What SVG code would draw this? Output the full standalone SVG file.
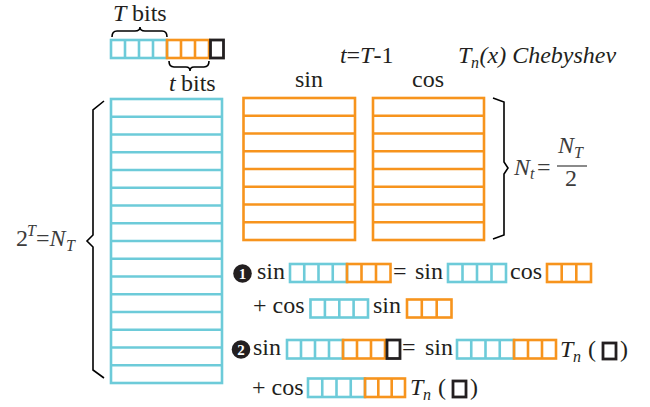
<svg xmlns="http://www.w3.org/2000/svg" width="650" height="407" viewBox="0 0 650 407">
<style>
@keyframes relay{from{letter-spacing:0px}to{letter-spacing:0.01px}}
text{font-size:24px;fill:#231f20;animation:relay 1s linear infinite alternate}
.it{font-style:italic}
.g{fill:#3c3c3c}
.s{font-size:16px;font-style:italic}
.w{fill:#fff;font-size:15px;font-weight:bold}
.b{fill:none;stroke:#6dcbd9;stroke-width:2.6}
.o{fill:none;stroke:#f7941d;stroke-width:2.6}
.k{fill:none;stroke:#231f20;stroke-width:2.8}
.br{fill:none;stroke:#000;stroke-width:1.6;stroke-linejoin:miter}
</style>
<rect width="650" height="407" fill="#fff"/>

<g id="bits-top">
  <text font-family="Liberation Serif" class="it" x="113" y="21">T</text>
  <text font-family="Liberation Serif" x="132" y="21">bits</text>
  <path class="br" d="M112,37 Q112,31 117,31 L135,31 Q140,31 140,27 Q140,31 145,31 L162,31 Q167,31 167,37" stroke-width="1.2"/>
  <rect class="b" x="111" y="40" width="56" height="18"/>
  <path class="b" d="M125,40V58M139,40V58M153,40V58"/>
  <rect class="o" x="167" y="40" width="42" height="18"/>
  <path class="o" d="M181,40V58M195,40V58"/>
  <rect class="k" x="210.5" y="40" width="13" height="18"/>
  <path class="br" d="M169,61 Q169,67 174,67 L186,67 Q190,67 190,71 Q190,67 194,67 L204,67 Q209,67 209,61" stroke-width="1.2"/>
  <text font-family="Liberation Serif" class="it" x="169" y="91">t</text>
  <text font-family="Liberation Serif" x="181" y="91">bits</text>
</g>

<g id="title">
  <text font-family="Liberation Serif" class="it" x="340" y="63">t</text>
  <text font-family="Liberation Serif" x="346.5" y="63">=</text>
  <text font-family="Liberation Serif" class="it" x="360" y="63">T</text>
  <text font-family="Liberation Serif" x="373.5" y="63">-1</text>
  <text font-family="Liberation Serif" class="it" x="458" y="63">T</text>
  <text font-family="Liberation Serif" class="s" x="471" y="68">n</text>
  <text font-family="Liberation Serif" class="it" x="479.5" y="63">(x) Chebyshev</text>
</g>

<g id="blue-table">
  <rect class="b" x="111" y="99" width="111" height="284"/>
  <path class="b" d="M111,116.75H222M111,134.5H222M111,152.25H222M111,170H222M111,187.75H222M111,205.5H222M111,223.25H222M111,241H222M111,258.75H222M111,276.5H222M111,294.25H222M111,312H222M111,329.75H222M111,347.5H222M111,365.25H222"/>
</g>

<g id="sin-table">
  <text font-family="Liberation Serif" x="295" y="87">sin</text>
  <rect class="o" x="243.5" y="98" width="111.5" height="142"/>
  <path class="o" d="M243.5,115.75H355M243.5,133.5H355M243.5,151.25H355M243.5,169H355M243.5,186.75H355M243.5,204.5H355M243.5,222.25H355"/>
</g>

<g id="cos-table">
  <text font-family="Liberation Serif" x="412" y="87">cos</text>
  <rect class="o" x="373" y="98" width="111" height="142"/>
  <path class="o" d="M373,115.75H484M373,133.5H484M373,151.25H484M373,169H484M373,186.75H484M373,204.5H484M373,222.25H484"/>
</g>

<g id="left-brace">
  <path class="br" d="M104,101 L93,110 L93,235 L87,241 L93,247 L93,370 L104,378"/>
  <text font-family="Liberation Serif" class="g" x="16" y="246">2</text>
  <text font-family="Liberation Serif" class="g s" x="27" y="236">T</text>
  <text font-family="Liberation Serif" class="g" x="36" y="246">=</text>
  <text font-family="Liberation Serif" class="g it" x="49.5" y="246">N</text>
  <text font-family="Liberation Serif" class="g s" x="66" y="251">T</text>
</g>

<g id="right-brace">
  <path class="br" d="M493,98 L504,102 L504,162 L508,168 L504,174 L504,235 L493,239"/>
  <text font-family="Liberation Serif" class="g it" x="514" y="175">N</text>
  <text font-family="Liberation Serif" class="g s" x="530" y="179">t</text>
  <text font-family="Liberation Serif" class="g" x="537" y="175">=</text>
  <text font-family="Liberation Serif" class="g it" x="558" y="153">N</text>
  <text font-family="Liberation Serif" class="g s" x="574" y="158">T</text>
  <line x1="557" y1="166" x2="587" y2="166" stroke="#3c3c3c" stroke-width="1.2"/>
  <text font-family="Liberation Serif" class="g" x="565" y="186">2</text>
</g>

<g id="marker-1">
  <circle cx="242.5" cy="273.5" r="9.3" fill="#231f20"/>
  <text font-family="Liberation Serif" class="w" x="242.5" y="279" text-anchor="middle">1</text>
</g>

<g id="eq1">
  <text font-family="Liberation Serif" x="257" y="279">sin</text>
  <rect class="b" x="290" y="264" width="57" height="18"/>
  <path class="b" d="M304.25,264V282M318.5,264V282M332.75,264V282"/>
  <rect class="o" x="347" y="264" width="43.5" height="18"/>
  <path class="o" d="M361.5,264V282M376,264V282"/>
  <text font-family="Liberation Serif" x="393" y="279">=</text>
  <text font-family="Liberation Serif" x="415" y="279">sin</text>
  <rect class="b" x="448" y="264" width="58" height="18"/>
  <path class="b" d="M462.5,264V282M477,264V282M491.5,264V282"/>
  <text font-family="Liberation Serif" x="510" y="279">cos</text>
  <rect class="o" x="547" y="264" width="44" height="18"/>
  <path class="o" d="M561.7,264V282M576.3,264V282"/>
  <text font-family="Liberation Serif" x="253" y="313">+ cos</text>
  <rect class="b" x="310.5" y="299.5" width="57.5" height="18"/>
  <path class="b" d="M324.9,299.5V317.5M339.3,299.5V317.5M353.6,299.5V317.5"/>
  <text font-family="Liberation Serif" x="373" y="313">sin</text>
  <rect class="o" x="407" y="299.5" width="44.5" height="18"/>
  <path class="o" d="M421.8,299.5V317.5M436.7,299.5V317.5"/>
</g>

<g id="marker-2">
  <circle cx="241" cy="349.5" r="9.3" fill="#231f20"/>
  <text font-family="Liberation Serif" class="w" x="241" y="355" text-anchor="middle">2</text>
</g>

<g id="eq2">
  <text font-family="Liberation Serif" x="253" y="355">sin</text>
  <rect class="b" x="287" y="340" width="56" height="18.5"/>
  <path class="b" d="M301,340V358.5M315,340V358.5M329,340V358.5"/>
  <rect class="o" x="343" y="340" width="42" height="18.5"/>
  <path class="o" d="M357,340V358.5M371,340V358.5"/>
  <rect class="k" x="387" y="340" width="13" height="18.5"/>
  <text font-family="Liberation Serif" x="402" y="355">=</text>
  <text font-family="Liberation Serif" x="425" y="355">sin</text>
  <rect class="b" x="457" y="340" width="57" height="18.5"/>
  <path class="b" d="M471.25,340V358.5M485.5,340V358.5M499.75,340V358.5"/>
  <rect class="o" x="514" y="340" width="42" height="18.5"/>
  <path class="o" d="M528,340V358.5M542,340V358.5"/>
  <text font-family="Liberation Serif" class="it" x="560" y="357">T</text>
  <text font-family="Liberation Serif" class="s" x="573" y="362">n</text>
  <text font-family="Liberation Serif" x="588" y="357">(</text>
  <rect class="k" x="603" y="343" width="13" height="16"/>
  <text font-family="Liberation Serif" x="620" y="357">)</text>
  <text font-family="Liberation Serif" x="252" y="395">+ cos</text>
  <rect class="b" x="308" y="378.5" width="57" height="18.5"/>
  <path class="b" d="M322.25,378.5V397M336.5,378.5V397M350.75,378.5V397"/>
  <rect class="o" x="365" y="378.5" width="40" height="18.5"/>
  <path class="o" d="M378.3,378.5V397M391.7,378.5V397"/>
  <text font-family="Liberation Serif" class="it" x="410" y="395">T</text>
  <text font-family="Liberation Serif" class="s" x="423" y="400">n</text>
  <text font-family="Liberation Serif" x="438" y="395">(</text>
  <rect class="k" x="453" y="381" width="13" height="16"/>
  <text font-family="Liberation Serif" x="470" y="395">)</text>
</g>
</svg>
